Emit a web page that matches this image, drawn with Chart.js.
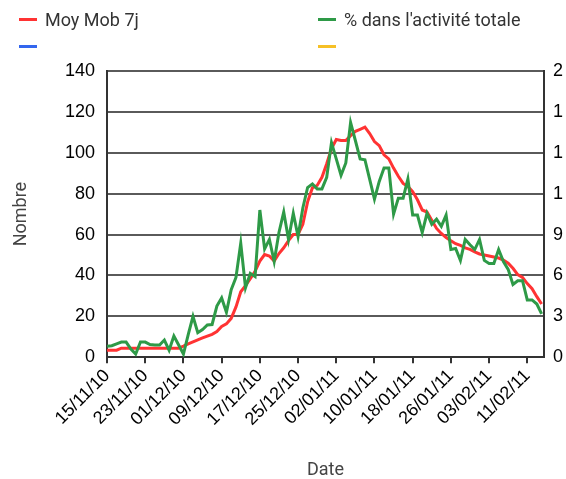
<!DOCTYPE html>
<html>
<head>
<meta charset="utf-8">
<script src="https://cdn.jsdelivr.net/npm/chart.js@4/dist/chart.umd.min.js"></script>
<style>
  body { margin: 0; background: #fff; }
  #wrap { position: relative; width: 566px; height: 479px; }
  #legend { position: absolute; top: 0; left: 0; width: 566px; font-family: Roboto, sans-serif; font-size: 18px; color: #333; }
  .item { position: absolute; display: flex; align-items: center; height: 24px; }
  .item span.mark { display: inline-block; width: 18px; height: 3px; margin-right: 8px; }
</style>
</head>
<body>
<div id="wrap">
  <canvas id="chart" width="566" height="479"></canvas>
  <div id="legend"></div>
</div>
<script>
// one point per day, starting 15/11/10
const dayCount = 92;

const dateTicks = ["15/11/10", "23/11/10", "01/12/10", "09/12/10", "17/12/10", "25/12/10",
  "02/01/11", "10/01/11", "18/01/11", "26/01/11", "03/02/11", "11/02/11"];

const leftTicks = ["0", "20", "40", "60", "80", "100", "120", "140"];
const rightTicks = ["0", "3", "6", "9", "1", "1", "1", "2"];

const legendNames = ["Moy Mob 7j", "% dans l'activité totale", "", ""];
const legendColors = ["#ff3333", "#2e9a47", "#3366ee", "#f6c026"];

// Moy Mob 7j (left axis)
const moyMob = [
  3.4, 3.4, 3.4, 4.4, 4.4, 4.4, 4.4, 4.4, 4.4, 4.4,
  4.4, 4.4, 4.4, 4.4, 4.4, 4.4, 5.4, 6.5, 7.5, 8.5,
  9.4, 10.3, 11.2, 12.5, 15, 16.3, 19, 24.6, 32, 35,
  38.4, 42, 47, 50.2, 49.5, 47, 50.7, 53.5, 57, 60,
  60, 65, 76, 82.8, 84, 88, 94.6, 102, 106.5, 106,
  106, 108.4, 110.5, 111.5, 112.5, 109.4, 105.5, 103.5, 99, 97,
  92.5, 88.5, 85, 83.5, 81, 77, 72, 71, 67, 63,
  60.5, 58.5, 57, 55.5, 54.7, 53.5, 52.7, 51.5, 50.5, 50,
  49.5, 49, 48.5, 47.5, 46, 43.5, 40.4, 39, 36, 33.5,
  29.6, 26
];

// % dans l'activité totale (right axis)
const pctActivite = [
  0.81, 0.84, 0.98, 1.11, 1.11, 0.6, 0.23, 1.11, 1.11, 0.93,
  0.89, 0.89, 1.26, 0.51, 1.55, 0.9, 0.23, 1.65, 3.0, 1.8,
  2.03, 2.37, 2.4, 3.75, 4.35, 3.3, 4.95, 5.85, 8.36, 5.1,
  6.15, 5.91, 10.8, 7.95, 8.64, 7.02, 9.15, 10.65, 8.64, 10.56,
  8.85, 10.95, 12.45, 12.71, 12.35, 12.35, 13.2, 15.75, 14.55, 13.35,
  14.25, 17.22, 15.9, 14.55, 14.49, 13.05, 11.6, 12.9, 13.89, 13.89,
  10.5, 11.67, 11.67, 13.08, 10.43, 10.43, 9.15, 10.56, 9.75, 10.13,
  9.6, 10.43, 7.9, 7.98, 7.1, 8.64, 8.25, 7.9, 8.64, 7.1,
  6.87, 6.87, 7.9, 7.02, 6.44, 5.33, 5.61, 5.61, 4.2, 4.2,
  3.9, 3.18
];

// legend, two columns like the original
const legendEl = document.getElementById("legend");
legendNames.forEach((name, i) => {
  const div = document.createElement("div");
  div.className = "item";
  div.style.left = (i % 2 === 0 ? 19 : 318) + "px";
  div.style.top = (i < 2 ? 7 : 34) + "px";
  div.innerHTML = '<span class="mark" style="background:' + legendColors[i] + '"></span>' + name;
  legendEl.appendChild(div);
});

const tickFont = { family: "'Liberation Sans', Arial, sans-serif", size: 18 };
const titleFont = { family: "Roboto, sans-serif", size: 18, lineHeight: 1 };

new Chart(document.getElementById("chart").getContext("2d"), {
  type: "line",
  data: {
    datasets: [
      {
        label: legendNames[0],
        data: moyMob.map((v, i) => ({ x: i, y: v })),
        borderColor: legendColors[0],
        borderWidth: 3,
        pointRadius: 0,
        yAxisID: "y",
        order: 1,
      },
      {
        label: legendNames[1],
        data: pctActivite.map((v, i) => ({ x: i, y: v })),
        borderColor: legendColors[1],
        borderWidth: 3,
        pointRadius: 0,
        yAxisID: "y2",
        order: 0,
      },
    ],
  },
  options: {
    responsive: false,
    animation: false,
    layout: { autoPadding: false, padding: { top: 71, left: 8, right: 0, bottom: 0 } },
    plugins: {
      legend: { display: false },
      tooltip: { enabled: false },
    },
    scales: {
      x: {
        type: "linear",
        min: 0,
        max: dayCount - 0.5,
        afterBuildTicks: (scale) => {
          scale.ticks = dateTicks.map((t, i) => ({ value: i * 8 }));
        },
        ticks: {
          autoSkip: false,
          minRotation: 45,
          maxRotation: 45,
          padding: 2,
          color: "#000",
          font: tickFont,
          callback: (v) => dateTicks[Math.round(v / 8)],
        },
        grid: { drawOnChartArea: false, drawTicks: true, tickLength: 6, color: "#333", lineWidth: 2 },
        border: { color: "#333", width: 2 },
        title: { display: true, text: "Date", color: "#444", font: titleFont, padding: { top: 29, bottom: 0 } },
      },
      y: {
        position: "left",
        min: 0,
        max: 140,
        ticks: {
          stepSize: 20,
          padding: 12,
          color: "#000",
          font: tickFont,
          callback: (v, i) => leftTicks[i],
        },
        grid: { color: "#5a5a5a", lineWidth: 2, drawTicks: false },
        border: { color: "#333", width: 2 },
        title: { display: true, text: "Nombre", color: "#444", font: titleFont, padding: { top: 4, bottom: 23 } },
      },
      y2: {
        position: "right",
        min: 0,
        max: 21,
        afterFit: (scale) => { scale.width = 22; },
        ticks: {
          stepSize: 3,
          padding: 9,
          color: "#000",
          font: tickFont,
          callback: (v, i) => rightTicks[i],
        },
        grid: { drawOnChartArea: false, drawTicks: false },
        border: { color: "#333", width: 2 },
      },
    },
  },
});
</script>
</body>
</html>
